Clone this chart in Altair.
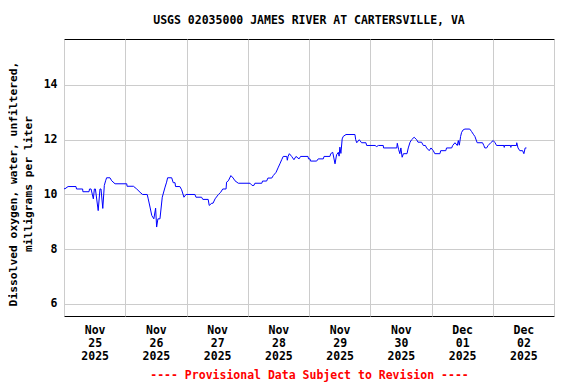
import altair as alt
import pandas as pd

# ---- data (hours after 2025-11-25 00:00, mg/L) ----
hours = [
    0.0, 0.4, 1.6, 4.7, 4.9, 7.3, 7.4, 9.8, 10.0, 10.6, 11.5, 11.9, 12.3, 13.4, 14.1,
    14.5, 15.2, 15.8, 16.3, 16.7, 18.0, 18.7, 20.0, 24.6, 24.7, 27.2, 28.5, 29.8, 30.8,
    32.6, 33.0, 33.7, 34.4, 35.2, 35.9, 36.3, 36.8, 37.6, 38.5, 39.6, 40.2, 40.6, 42.2,
    42.8, 43.5, 43.7, 45.4, 46.1, 47.0, 47.8, 51.3, 51.7, 53.9, 54.4, 56.5, 56.9, 57.9,
    58.4, 59.2, 60.5, 61.4, 62.2, 63.5, 63.7, 64.4, 65.4, 66.3, 67.0, 68.3, 72.9, 73.7,
    74.4, 74.8, 77.5, 77.8, 79.4, 79.9, 81.4, 82.0, 83.1, 84.0, 84.6, 85.3, 85.9, 87.3,
    87.5, 87.8, 88.3, 89.2, 90.1, 90.9, 92.1, 92.7, 95.6, 95.8, 96.4, 96.6, 99.0, 99.6,
    101.6, 101.9, 104.2, 104.5, 105.3, 106.2, 106.8, 107.5, 107.8, 108.1, 108.5, 109.0,
    109.4, 110.5, 114.0, 114.3, 114.7, 115.7, 116.6, 118.3, 118.6, 121.9, 122.5, 123.2,
    125.1, 125.2, 130.4, 130.6, 131.1, 131.6, 132.0, 132.5, 133.0, 134.4, 134.9, 135.6,
    136.2, 137.2, 138.2, 138.7, 140.1, 140.8, 141.6, 142.1, 143.1, 143.8, 144.7, 145.3,
    147.3, 147.6, 149.6, 149.9, 151.9, 152.3, 153.2, 154.1, 154.5, 154.9, 155.4, 155.8,
    156.4, 157.1, 159.0, 159.7, 160.4, 161.0, 161.9, 164.0, 164.5, 164.9, 165.6, 166.2,
    167.2, 168.2, 168.9, 169.5, 172.4, 172.5, 172.6, 175.0, 175.1, 175.2, 177.3, 177.4,
    177.9, 178.6, 179.7, 180.2, 180.7, 181.2,
]
values = [
    10.21, 10.21, 10.29, 10.29, 10.2, 10.2, 10.1, 10.1, 10.2, 10.2, 9.84, 10.2, 10.2, 9.41, 10.2,
    10.2, 9.49, 10.33, 10.5, 10.61, 10.61, 10.5, 10.39, 10.39, 10.3, 10.3, 10.2, 10.08, 10.0,
    10.0, 9.84, 9.54, 9.23, 9.11, 9.5, 8.81, 9.11, 9.11, 9.9, 10.27, 10.45, 10.61, 10.61,
    10.43, 10.43, 10.29, 10.29, 10.17, 9.9, 10.0, 10.0, 9.9, 9.9, 9.82, 9.82, 9.6, 9.68,
    9.68, 9.84, 10.0, 10.08, 10.2, 10.2, 10.45, 10.5, 10.69, 10.6, 10.5, 10.41, 10.41, 10.33,
    10.33, 10.41, 10.41, 10.49, 10.49, 10.6, 10.6, 10.69, 10.81, 11.0, 11.12, 11.27, 11.39, 11.39,
    11.25, 11.39, 11.49, 11.39, 11.27, 11.39, 11.3, 11.39, 11.39, 11.3, 11.3, 11.22, 11.22, 11.3,
    11.3, 11.39, 11.39, 11.49, 11.54, 11.12, 11.45, 11.54, 11.4, 11.73, 11.5, 12.03,
    12.12, 12.19, 12.19, 12.0, 11.89, 12.0, 11.89, 11.89, 11.79, 11.79, 11.75, 11.79,
    11.79, 11.7, 11.7, 11.87, 11.65, 11.49, 11.7, 11.36, 11.49, 11.49, 11.7, 11.91,
    12.0, 12.09, 12.0, 11.91, 11.91, 11.79, 11.79, 11.7, 11.6, 11.7, 11.6, 11.49,
    11.49, 11.6, 11.6, 11.7, 11.7, 11.79, 11.89, 11.79, 11.97, 11.8, 12.12, 12.27,
    12.36, 12.39, 12.39, 12.3, 12.2, 12.12, 11.89, 11.89, 11.79, 11.7, 11.7, 11.79,
    11.89, 11.97, 11.89, 11.79, 11.79, 11.72, 11.79, 11.79, 11.72, 11.79, 11.79, 11.89,
    11.7, 11.6, 11.6, 11.49, 11.7, 11.7,
]

title_text = "USGS 02035000 JAMES RIVER AT CARTERSVILLE, VA"
y_title = ["Dissolved oxygen, water, unfiltered,", "milligrams per liter"]
footer = "---- Provisional Data Subject to Revision ----"
y_ticks = [6, 8, 10, 12, 14]
y_domain = [5.56, 15.68]
start_day = "2025-11-25"
n_days = 8

FONT = "DejaVu Sans Mono"
FS = 11.5

start = pd.Timestamp(start_day)
times = [(start + pd.Timedelta(hours=h)).strftime("%Y-%m-%dT%H:%M:%S") for h in hours]
df = pd.DataFrame({"time": times, "do": values})


def dt(ts):
    return alt.DateTime(year=ts.year, month=ts.month, date=ts.day, hours=ts.hour)


tick_ts = []
for d in range(n_days + 1):
    tick_ts.append(start + pd.Timedelta(days=d))
    if d < n_days:
        tick_ts.append(start + pd.Timedelta(days=d, hours=12))
tick_vals = [dt(t) for t in tick_ts]
x_domain = [dt(start), dt(start + pd.Timedelta(days=n_days))]

chart = (
    alt.Chart(df)
    .mark_line(color="#0000ff", strokeWidth=1, clip=True)
    .encode(
        x=alt.X(
            "time:T",
            scale=alt.Scale(domain=x_domain, nice=False),
            axis=alt.Axis(
                values=tick_vals,
                labelExpr="hours(datum.value) == 12 ? [timeFormat(datum.value, '%b'), timeFormat(datum.value, '%d'), timeFormat(datum.value, '%Y')] : ''",
                gridOpacity={"condition": {"test": "hours(datum.value) == 0", "value": 1}, "value": 0},
                ticks=False,
                domain=False,
                labelOverlap=False,
                labelFlush=False,
                labelPadding=8,
                labelLineHeight=13,
                labelBaseline="top",
                title=footer,
                titleColor="#ff0000",
                titlePadding=8,
            ),
        ),
        y=alt.Y(
            "do:Q",
            scale=alt.Scale(domain=y_domain, nice=False, zero=False),
            axis=alt.Axis(
                values=y_ticks,
                ticks=False,
                domain=False,
                labelPadding=7,
                title=y_title,
                titleFontSize=11.3,
                titleX=-47.5,
                titleY=144.5,
                titleAngle=-90,
                titleAlign="center",
                titleBaseline="alphabetic",
                titleLineHeight=15,
            ),
        ),
    )
    .properties(
        width=490,
        height=277,
        autosize="none",
        padding={"left": 56, "top": 31, "right": 14, "bottom": 70},
        title=alt.TitleParams(
            title_text, font=FONT, fontSize=FS, fontWeight="bold", offset=13, color="black"
        ),
    )
    .configure_view(stroke="black", strokeWidth=1)
    .configure_axis(
        labelFont=FONT,
        labelFontSize=FS,
        labelFontWeight="bold",
        labelColor="black",
        titleFont=FONT,
        titleFontSize=FS,
        titleFontWeight="bold",
        titleColor="black",
        gridColor="#cccccc",
        gridWidth=1,
    )
)

chart.save("out.html", embed_options={"renderer": "svg", "actions": False})
